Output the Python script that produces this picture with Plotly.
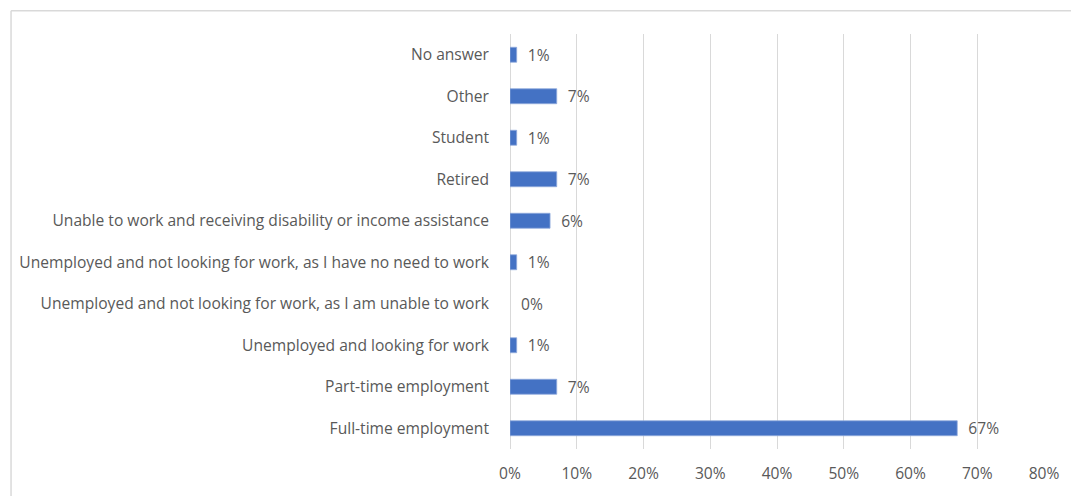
import plotly.graph_objects as go

# Employment status of respondents (percent), listed bottom to top
categories = [
    "Full-time employment",
    "Part-time employment",
    "Unemployed and looking for work",
    "Unemployed and not looking for work, as I am unable to work",
    "Unemployed and not looking for work, as I have no need to work",
    "Unable to work and receiving disability or income assistance",
    "Retired",
    "Student",
    "Other",
    "No answer",
]
percent = [67, 7, 1, 0, 1, 6, 7, 1, 7, 1]
tick_values = [0, 10, 20, 30, 40, 50, 60, 70, 80]
tick_labels = [f"{v}%" for v in tick_values]

FONT = "Open Sans, Calibri, Carlito, sans-serif"
FS = 15.6
TEXT = "#595959"
GRID = "#d9d9d9"

fig = go.Figure(
    go.Bar(
        x=percent,
        y=categories,
        orientation="h",
        width=0.36,
        marker=dict(
            color="#4472C4",
            line=dict(color="#8faadc", width=[0.8 if v > 0 else 0 for v in percent]),
        ),
        text=[f"  {v}%" for v in percent],
        textposition="outside",
        constraintext="none",
        cliponaxis=False,
        textfont=dict(family=FONT, size=FS, color=TEXT),
    )
)

W, H = 1071, 496
ml, mr, mt, mb = 510, 20, 34, 43
pw, ph = W - ml - mr, H - mt - mb

# light frame around the chart area (left and top edges visible)
fx = (4.5 - ml) / pw
fy = (H - mb - 10.5) / ph
fig.add_shape(type="line", xref="paper", yref="paper", x0=fx, x1=fx, y0=-0.2, y1=fy,
              line=dict(color=GRID, width=1.5))
fig.add_shape(type="line", xref="paper", yref="paper", x0=fx, x1=1.1, y0=fy, y1=fy,
              line=dict(color=GRID, width=1.5))

fig.update_layout(
    width=W,
    height=H,
    margin=dict(l=ml, r=mr, t=mt, b=mb),
    paper_bgcolor="white",
    plot_bgcolor="white",
    showlegend=False,
    font=dict(family=FONT, size=FS, color=TEXT),
    xaxis=dict(
        range=[0, 80],
        tickvals=tick_values,
        ticktext=tick_labels,
        showgrid=True,
        gridcolor=GRID,
        gridwidth=1,
        zeroline=True,
        zerolinecolor=GRID,
        zerolinewidth=1,
        showline=False,
        ticks="",
        ticklabelstandoff=13,
        tickfont=dict(family=FONT, size=FS, color=TEXT),
        fixedrange=True,
    ),
    yaxis=dict(
        categoryorder="array",
        categoryarray=categories,
        range=[-0.5, len(categories) - 0.5],
        showgrid=False,
        zeroline=False,
        showline=False,
        ticks="",
        ticklabelstandoff=20,
        tickfont=dict(family=FONT, size=FS, color=TEXT),
        fixedrange=True,
    ),
)

fig.write_html("out.html")
